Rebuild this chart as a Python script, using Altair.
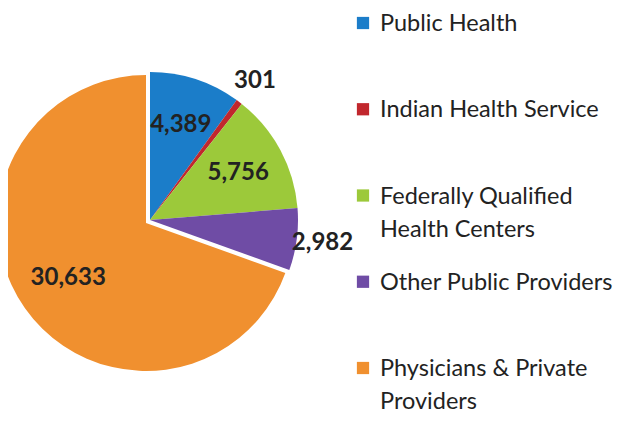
import altair as alt
import pandas as pd

categories = ["Public Health", "Indian Health Service", "Federally Qualified Health Centers",
              "Other Public Providers", "Physicians & Private Providers"]
legend_labels = ["Public Health", "Indian Health Service", "Federally Qualified\nHealth Centers",
                 "Other Public Providers", "Physicians & Private\nProviders"]
values = [4389, 301, 5756, 2982, 30633]
value_labels = ["4,389", "301", "5,756", "2,982", "30,633"]
colors = ["#1b7dc9", "#c1272d", "#9cc93a", "#6f4ca5", "#f0902f"]

df = pd.DataFrame({
    "category": categories,
    "legend": legend_labels,
    "value": values,
    "label": value_labels,
    "order": list(range(len(categories))),
})
total = sum(values)

CX, CY, R = 142, 212, 148
FONT = "Lato"

theta_scale = alt.Scale(domain=[0, total], range=[0, 6.283185307179586])
color_scale = alt.Scale(domain=categories, range=colors)

base = alt.Chart(df).transform_window(
    cum="sum(value)", sort=[alt.SortField("order")]
).transform_calculate(
    start="datum.cum - datum.value",
    mid="datum.cum - datum.value / 2",
)

arcs = base.transform_filter("datum.order < 4").mark_arc(radius=R).encode(
    theta=alt.Theta("start:Q", scale=theta_scale),
    theta2="cum:Q",
    color=alt.Color("category:N", scale=color_scale, legend=None),
    x=alt.value(CX),
    y=alt.value(CY),
)

orange = base.transform_filter("datum.order == 4").mark_arc(radius=R).encode(
    theta=alt.Theta("start:Q", scale=theta_scale),
    theta2="cum:Q",
    color=alt.Color("category:N", scale=color_scale, legend=None),
    x=alt.value(CX - 4),
    y=alt.value(CY + 3),
)

inner_labels = base.transform_filter("datum.value >= 4000").mark_text(
    font=FONT, fontSize=24, fontWeight="bold", color="#222222", radius=100
).encode(
    theta=alt.Theta("mid:Q", scale=theta_scale, stack=None),
    text="label:N",
    x=alt.value(CX),
    y=alt.value(CY),
)

outer_labels = base.transform_filter("datum.value < 4000").mark_text(
    font=FONT, fontSize=24, fontWeight="bold", color="#222222", radius=174
).encode(
    theta=alt.Theta("mid:Q", scale=theta_scale, stack=None),
    text="label:N",
    x=alt.value(CX),
    y=alt.value(CY),
)

legend_y = alt.Y("category:N",
                 scale=alt.Scale(domain=categories, range=[15, 360], padding=0),
                 axis=None)

legend_squares = alt.Chart(df).mark_square(size=150, opacity=1).encode(
    x=alt.value(355),
    y=legend_y,
    color=alt.Color("category:N", scale=color_scale, legend=None),
)

legend_text = alt.Chart(df).mark_text(
    font=FONT, fontSize=23.5, color="#222222", align="left", baseline="alphabetic",
    dy=8, lineBreak="\n", lineHeight=33
).encode(
    x=alt.value(372),
    y=legend_y,
    text="legend:N",
)

chart = alt.layer(arcs, orange, inner_labels, outer_labels, legend_squares, legend_text).properties(
    width=610, height=407, autosize="none", padding=0
).configure_view(stroke=None)

chart.save("out.html", embed_options={"renderer": "svg", "actions": False})
